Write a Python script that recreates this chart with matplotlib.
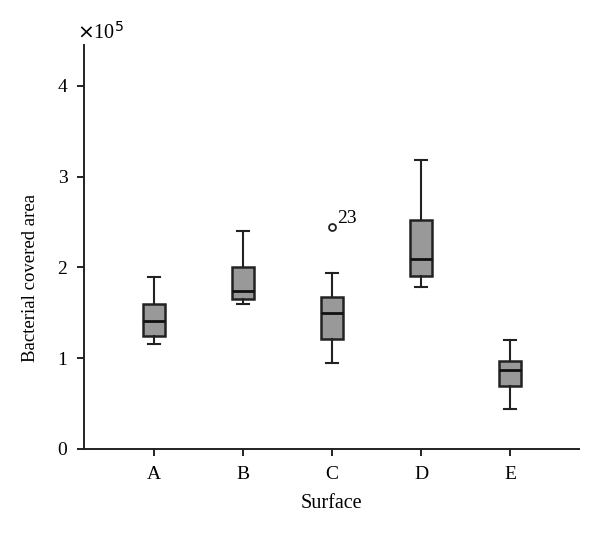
import matplotlib.pyplot as plt

plt.rcParams['font.family'] = ['Liberation Serif', 'DejaVu Serif']

surfaces = ['A', 'B', 'C', 'D', 'E']
whislo = [1.16, 1.60, 0.95, 1.78, 0.44]
q1 = [1.25, 1.65, 1.21, 1.91, 0.69]
med = [1.41, 1.74, 1.50, 2.09, 0.87]
q3 = [1.60, 2.01, 1.67, 2.52, 0.97]
whishi = [1.89, 2.40, 1.94, 3.18, 1.20]
outliers = [[], [], [2.45], [], []]
outlier_labels = {2: '23'}

stats = []
for i in range(len(surfaces)):
    stats.append({'whislo': whislo[i], 'q1': q1[i], 'med': med[i], 'q3': q3[i],
                  'whishi': whishi[i], 'fliers': outliers[i], 'label': surfaces[i]})

fig = plt.figure(figsize=(6, 5.33), dpi=100)
ax = fig.add_axes([0.14, 0.1576, 0.825, 0.758])

pos = list(range(1, len(surfaces) + 1))
ax.bxp(stats, positions=pos, widths=0.25, patch_artist=True,
       boxprops=dict(facecolor='#999999', edgecolor='#222222', linewidth=1.8),
       medianprops=dict(color='#111111', linewidth=2.0),
       whiskerprops=dict(color='#222222', linewidth=1.5),
       capprops=dict(color='#222222', linewidth=1.5),
       capwidths=0.135,
       flierprops=dict(marker='o', markersize=5, markerfacecolor='white',
                       markeredgecolor='#222222', markeredgewidth=1.3))

for i, lab in outlier_labels.items():
    ax.annotate(lab, (pos[i], outliers[i][0]), xytext=(4, 0), textcoords='offset points',
                fontsize=14, va='bottom')

ax.set_xlim(0.213, 5.775)
ax.set_ylim(0, 4.45)
ax.set_yticks([0, 1, 2, 3, 4])
ax.set_yticklabels(['0', '1', '2', '3', '4'])
ax.set_xticks(pos)
ax.set_xticklabels(surfaces)
for s in ['top', 'right']:
    ax.spines[s].set_visible(False)
for s in ['left', 'bottom']:
    ax.spines[s].set_linewidth(1.4)
    ax.spines[s].set_color('#222222')
ax.tick_params(labelsize=14, length=5, width=1.4, color='#222222', pad=7)
ax.set_xlabel('Surface', fontsize=14.5, labelpad=8)
ax.set_ylabel('Bacterial covered area', fontsize=13.5)
ax.yaxis.set_label_coords(-0.09, 0.423)
ax.text(-0.015, 1.003, r'$\times$10$^5$', transform=ax.transAxes, fontsize=14.5,
        ha='left', va='bottom')

plt.savefig('out.png', dpi=100)
